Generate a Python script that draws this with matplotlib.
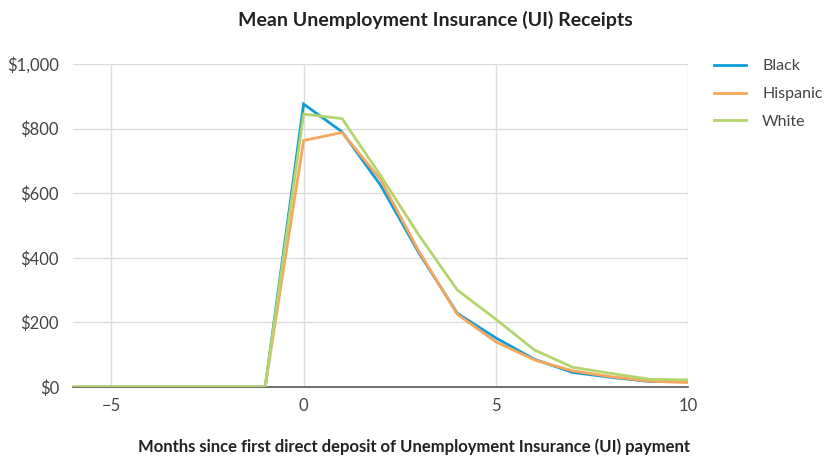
import matplotlib
matplotlib.use("Agg")
import matplotlib.pyplot as plt
from matplotlib.ticker import FuncFormatter

months = [-6, -5, -4, -3, -2, -1, 0, 1, 2, 3, 4, 5, 6, 7, 8, 9, 10]
black = [0, 0, 0, 0, 0, 0, 876, 790, 625, 415, 228, 152, 86, 45, 30, 17, 16]
hispanic = [0, 0, 0, 0, 0, 0, 763, 788, 643, 420, 225, 140, 84, 50, 32, 18, 14]
white = [0, 0, 0, 0, 0, 0, 845, 831, 655, 470, 300, 210, 115, 61, 42, 24, 22]
series_names = ["Black", "Hispanic", "White"]
colors = ["#119dd8", "#f8a65c", "#b4d56e"]

plt.rcParams['font.family'] = ['Lato', 'DejaVu Sans']

fig = plt.figure(figsize=(8.34, 4.59), dpi=100)
ax = fig.add_axes([73/834, 1-387/459, (688-73)/834, (387-64)/459])

for name, vals, c in zip(series_names, [black, hispanic, white], colors):
    ax.plot(months, vals, color=c, lw=2, label=name, solid_joinstyle='miter')

ax.set_xlim(-6, 10)
ax.set_ylim(0, 1000)
ax.set_xticks([-5, 0, 5, 10])
ax.set_xticklabels(["\u22125", "0", "5", "10"])
ax.set_yticks([0, 200, 400, 600, 800, 1000])
ax.yaxis.set_major_formatter(FuncFormatter(lambda v, p: "${:,.0f}".format(v)))
ax.grid(True, color="#dddddd", lw=1)
ax.set_axisbelow(True)
for s in ["top", "right", "left"]:
    ax.spines[s].set_visible(False)
ax.spines["bottom"].set_color("#555555")
ax.spines["bottom"].set_linewidth(1.2)
ax.spines["bottom"].set_zorder(1)
ax.tick_params(axis="both", length=0, labelsize=12, colors="#444444")
ax.tick_params(axis="y", pad=10)
ax.tick_params(axis="x", pad=8)

leg = fig.legend(*ax.get_legend_handles_labels(), loc="upper left",
                 bbox_to_anchor=(711/834, 1-56/459), bbox_transform=fig.transFigure,
                 frameon=False, borderaxespad=0, borderpad=0.2,
                 fontsize=11.5, handlelength=2.0, handletextpad=1.0, labelspacing=0.85)
for t in leg.get_texts():
    t.set_color("#444444")

fig.text(435/834, 1-20/459, "Mean Unemployment Insurance (UI) Receipts",
         ha="center", va="center", fontsize=14, fontweight="bold", color="#222222")
fig.text(414/834, 1-447/459, "Months since first direct deposit of Unemployment Insurance (UI) payment",
         ha="center", va="center", fontsize=12, fontweight="bold", color="#222222")

fig.savefig("out.png", dpi=100)
